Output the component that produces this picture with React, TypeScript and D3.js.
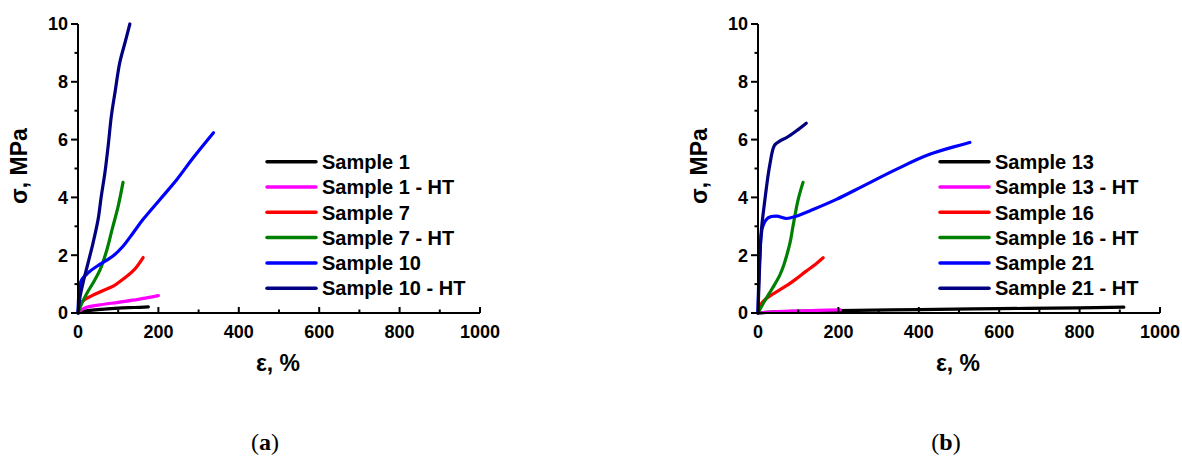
import React from "react";
import * as d3 from "d3";

// ---------- DATA ----------
const xTicks = [0, 200, 400, 600, 800, 1000];
const yTicks = [0, 2, 4, 6, 8, 10];

// Panel (a)
const aNames = ["Sample 1", "Sample 1 - HT", "Sample 7", "Sample 7 - HT", "Sample 10", "Sample 10 - HT"];
const a1Eps = [0, 10, 25, 50, 100, 140, 175];
const a1Sig = [0, 0.04, 0.08, 0.12, 0.17, 0.19, 0.21];
const a1HTEps = [0, 10, 20, 50, 100, 150, 200];
const a1HTSig = [0, 0.12, 0.19, 0.27, 0.37, 0.47, 0.6];
const a7Eps = [0, 5, 15, 35, 60, 90, 115, 140, 162];
const a7Sig = [0, 0.28, 0.45, 0.6, 0.76, 0.95, 1.2, 1.5, 1.92];
const a7HTEps = [0, 10, 25, 40, 55, 70, 85, 100, 112];
const a7HTSig = [0, 0.35, 0.75, 1.1, 1.5, 2.1, 2.9, 3.7, 4.52];
const a10Eps = [0, 2.5, 8, 25, 54, 87, 112, 137, 162, 204, 246, 287, 337];
const a10Sig = [0, 0.69, 1.12, 1.39, 1.68, 1.97, 2.31, 2.77, 3.24, 3.93, 4.62, 5.38, 6.24];
const a10HTEps = [0, 5, 12.5, 25, 37.5, 50, 58, 67, 75, 83, 92, 104, 117, 129];
const a10HTSig = [0, 0.55, 1.04, 1.73, 2.43, 3.24, 4.05, 4.86, 5.78, 6.82, 7.63, 8.67, 9.36, 10.0];

// Panel (b)
const bNames = ["Sample 13", "Sample 13 - HT", "Sample 16", "Sample 16 - HT", "Sample 21", "Sample 21 - HT"];
const b13Eps = [0, 50, 200, 400, 600, 800, 910];
const b13Sig = [0, 0.04, 0.08, 0.12, 0.15, 0.18, 0.2];
const b13HTEps = [0, 50, 100, 150, 205];
const b13HTSig = [0, 0.05, 0.07, 0.09, 0.11];
const b16Eps = [0, 8, 17, 35, 54, 75, 95, 120, 140, 162];
const b16Sig = [0, 0.32, 0.46, 0.64, 0.8, 0.98, 1.18, 1.45, 1.65, 1.91];
const b16HTEps = [0, 15, 29, 42, 54, 64, 71, 80, 87, 100, 112];
const b16HTSig = [0, 0.38, 0.7, 1.0, 1.3, 1.65, 1.97, 2.45, 3.0, 3.93, 4.52];
const b21Eps = [0, 4, 12, 25, 46, 71, 95, 137, 195, 261, 344, 427, 527];
const b21Sig = [0, 1.85, 3.0, 3.29, 3.35, 3.27, 3.35, 3.58, 3.93, 4.39, 4.97, 5.49, 5.9];
const b21HTEps = [0, 4, 8, 17, 29, 41, 54, 71, 95, 120];
const b21HTSig = [0, 1.6, 2.8, 3.9, 5.1, 5.8, 5.95, 6.07, 6.3, 6.57];

const colors = ["#000000", "#ff00ff", "#ff0000", "#008000", "#0000ff", "#000080"];

const aSeries = [
  [a1Eps, a1Sig], [a1HTEps, a1HTSig], [a7Eps, a7Sig],
  [a7HTEps, a7HTSig], [a10Eps, a10Sig], [a10HTEps, a10HTSig],
];
const bSeries = [
  [b13Eps, b13Sig], [b13HTEps, b13HTSig], [b16Eps, b16Sig],
  [b16HTEps, b16HTSig], [b21Eps, b21Sig], [b21HTEps, b21HTSig],
];

const FONT = "'Liberation Sans', Arial, sans-serif";

function Panel({ x0, names, series, legendX, caption, captionX }) {
  const x = d3.scaleLinear().domain([0, 1000]).range([x0, x0 + 402]);
  const y = d3.scaleLinear().domain([0, 10]).range([313, 24]);
  const line = d3
    .line<[number, number]>()
    .x((d) => x(d[0]))
    .y((d) => y(d[1]))
    .curve(d3.curveCatmullRom.alpha(0.5));
  const minorX = d3.range(100, 1000, 200);
  const minorY = d3.range(1, 10, 2);
  const legendRows = d3.range(names.length).map((i) => 161.7 + i * 25.3);
  return (
    <g>
      {series.map(([e, s], i) => (
        <path
          key={i}
          d={line(e.map((v, k) => [v, s[k]]))}
          fill="none"
          stroke={colors[i]}
          strokeWidth={3.2}
          strokeLinecap="round"
          strokeLinejoin="round"
        />
      ))}
      {/* axes */}
      <line x1={x(0)} x2={x(1000)} y1={y(0)} y2={y(0)} stroke="#000" strokeWidth={2} />
      <line x1={x(0)} x2={x(0)} y1={y(0)} y2={y(10)} stroke="#000" strokeWidth={2} />
      {xTicks.map((t) => (
        <g key={"xt" + t}>
          <line x1={x(t)} x2={x(t)} y1={y(0)} y2={y(0) - 6} stroke="#000" strokeWidth={2} />
          <text x={x(t)} y={337.5} textAnchor="middle" fontFamily={FONT} fontWeight="bold" fontSize={18}>
            {t}
          </text>
        </g>
      ))}
      {minorX.map((t) => (
        <line key={"mx" + t} x1={x(t)} x2={x(t)} y1={y(0)} y2={y(0) - 3.5} stroke="#000" strokeWidth={2} />
      ))}
      {yTicks.map((t) => (
        <g key={"yt" + t}>
          <line x1={x(0) - 7} x2={x(0)} y1={y(t)} y2={y(t)} stroke="#000" strokeWidth={2} />
          <text x={x0 - 10} y={y(t)} dy="0.36em" textAnchor="end" fontFamily={FONT} fontWeight="bold" fontSize={18}>
            {t}
          </text>
        </g>
      ))}
      {minorY.map((t) => (
        <line key={"my" + t} x1={x(0) - 3.5} x2={x(0)} y1={y(t)} y2={y(t)} stroke="#000" strokeWidth={2} />
      ))}
      <text
        transform={`translate(${x0 - 51},${166}) rotate(-90)`}
        textAnchor="middle"
        fontFamily={FONT}
        fontWeight="bold"
        fontSize={23}
      >
        σ, MPa
      </text>
      <text x={x0 + 200} y={371} textAnchor="middle" fontFamily={FONT} fontWeight="bold" fontSize={23}>
        ε, %
      </text>
      {/* legend */}
      {names.map((n, i) => (
        <g key={"lg" + i}>
          <line
            x1={legendX}
            x2={legendX + 49}
            y1={legendRows[i]}
            y2={legendRows[i]}
            stroke={colors[i]}
            strokeWidth={3.5}
            strokeLinecap="round"
          />
          <text
            x={legendX + 55}
            y={legendRows[i]}
            dy="0.36em"
            fontFamily={FONT}
            fontWeight="bold"
            fontSize={20}
          >
            {n}
          </text>
        </g>
      ))}
      <text
        x={captionX}
        y={450}
        textAnchor="middle"
        fontFamily="'Liberation Serif', 'DejaVu Serif', serif"
        fontSize={24}
      >
        (<tspan fontWeight="bold">{caption}</tspan>)
      </text>
    </g>
  );
}

export default function App() {
  return (
    <svg
      width={1182}
      height={461}
      style={{ position: "absolute", left: 0, top: 0, background: "#fff" }}
    >
      <rect width={1182} height={461} fill="#fff" />
      <Panel x0={78} names={aNames} series={aSeries} legendX={267} caption="a" captionX={265} />
      <Panel x0={758} names={bNames} series={bSeries} legendX={940} caption="b" captionX={946} />
    </svg>
  );
}
